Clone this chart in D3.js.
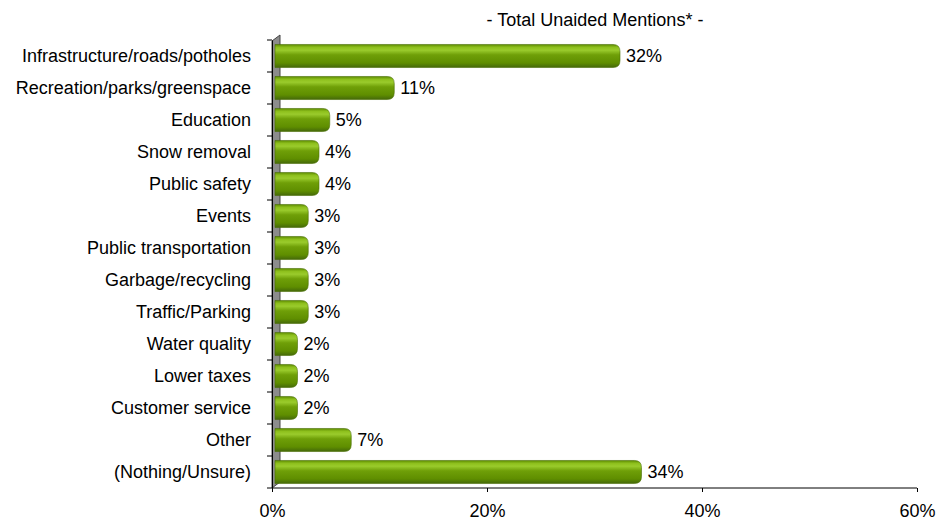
<!DOCTYPE html>
<html>
<head>
<meta charset="utf-8">
<script src="https://cdn.jsdelivr.net/npm/d3@7"></script>
<style>
  body { margin: 0; background: #fff; }
  text { font-family: "Liberation Sans", Arial, sans-serif; fill: #000; }
</style>
</head>
<body>
<svg id="chart"></svg>
<script>
var categories = [
  "Infrastructure/roads/potholes",
  "Recreation/parks/greenspace",
  "Education",
  "Snow removal",
  "Public safety",
  "Events",
  "Public transportation",
  "Garbage/recycling",
  "Traffic/Parking",
  "Water quality",
  "Lower taxes",
  "Customer service",
  "Other",
  "(Nothing/Unsure)"
];
var values = [32, 11, 5, 4, 4, 3, 3, 3, 3, 2, 2, 2, 7, 34];
var xTicks = [0, 20, 40, 60];
var title = "- Total Unaided Mentions* -";

var width = 937, height = 520;
var margin = { top: 40, right: 20, bottom: 32, left: 272 };
var depth = { dx: 8, dy: -6 };
var fontSize = "18px";

var svg = d3.select("#chart").attr("width", width).attr("height", height);

var x = d3.scaleLinear().domain([0, 60]).range([margin.left, 917]);
var y = d3.scaleBand().domain(categories).range([margin.top, height - margin.bottom]).paddingInner(0.28).paddingOuter(0.14);
var yEdges = d3.scaleBand().domain(categories).range([margin.top, height - margin.bottom]);

var defs = svg.append("defs");
var grad = defs.append("linearGradient").attr("id", "barGrad")
  .attr("x1", 0).attr("y1", 0).attr("x2", 0).attr("y2", 1);
grad.append("stop").attr("offset", "0%").attr("stop-color", "#5c8a00");
grad.append("stop").attr("offset", "12%").attr("stop-color", "#8dbf1c");
grad.append("stop").attr("offset", "25%").attr("stop-color", "#9acb2c");
grad.append("stop").attr("offset", "45%").attr("stop-color", "#6f9f08");
grad.append("stop").attr("offset", "80%").attr("stop-color", "#5f8e00");
grad.append("stop").attr("offset", "100%").attr("stop-color", "#44680a");

var y0 = margin.top, y1 = height - margin.bottom;
var x0 = x(0);

// back wall
svg.append("path")
  .attr("d", "M" + x0 + "," + (y0 + 1) + "L" + (x0 + depth.dx) + "," + (y0 + 1 + depth.dy) +
    "L" + (x0 + depth.dx) + "," + (y1 + depth.dy) + "L" + x0 + "," + y1 + "Z")
  .attr("fill", "#8c8c8c")
  .attr("stroke", "#444")
  .attr("stroke-width", 1);

// bars
function barPath(d, i) {
  var top = y(categories[i]), h = y.bandwidth();
  var left = x0 + 3, right = x(d) + 4;
  var r = Math.min(7, (right - left) / 2);
  return "M" + left + "," + top +
    "L" + (right - r) + "," + top +
    "Q" + right + "," + top + " " + right + "," + (top + r) +
    "L" + right + "," + (top + h - r) +
    "Q" + right + "," + (top + h) + " " + (right - r) + "," + (top + h) +
    "L" + left + "," + (top + h) + "Z";
}

svg.selectAll(".bar")
  .data(values)
  .enter()
  .append("path")
  .attr("class", "bar")
  .attr("d", barPath)
  .attr("fill", "url(#barGrad)")
  .attr("stroke", "#4a6e05")
  .attr("stroke-width", 0.6);

// value labels
svg.selectAll(".val")
  .data(values)
  .enter()
  .append("text")
  .attr("class", "val")
  .attr("x", function (d) { return x(d) + 10; })
  .attr("y", function (d, i) { return y(categories[i]) + y.bandwidth() / 2; })
  .attr("dy", "0.36em")
  .style("font-size", fontSize)
  .text(function (d) { return d + "%"; });

// y axis
var yAxis = d3.axisLeft(yEdges).tickSize(0).tickPadding(21);
var gy = svg.append("g").attr("transform", "translate(" + x0 + ",0)").call(yAxis);
gy.select(".domain").attr("stroke", "#000");
gy.selectAll("text").style("font-size", fontSize).style("font-family", "Liberation Sans, Arial, sans-serif");
// tick marks at band edges
var edges = categories.map(function (c) { return yEdges(c); }).concat([y1]);
svg.selectAll(".ytick")
  .data(edges)
  .enter()
  .append("line")
  .attr("x1", x0 - 5).attr("x2", x0)
  .attr("y1", function (d) { return d; }).attr("y2", function (d) { return d; })
  .attr("stroke", "#000");

// x axis
var xAxis = d3.axisBottom(x).tickValues(xTicks).tickSize(4).tickPadding(12)
  .tickFormat(function (d) { return d + "%"; });
var gx = svg.append("g").attr("transform", "translate(0," + y1 + ")").call(xAxis);
gx.selectAll("text").style("font-size", fontSize).style("font-family", "Liberation Sans, Arial, sans-serif");
gx.select(".domain").attr("d", "M" + x0 + ",0H" + x(60));

// title
svg.append("text")
  .attr("x", 595)
  .attr("y", 26)
  .attr("text-anchor", "middle")
  .style("font-size", fontSize)
  .text(title);
</script>
</body>
</html>
